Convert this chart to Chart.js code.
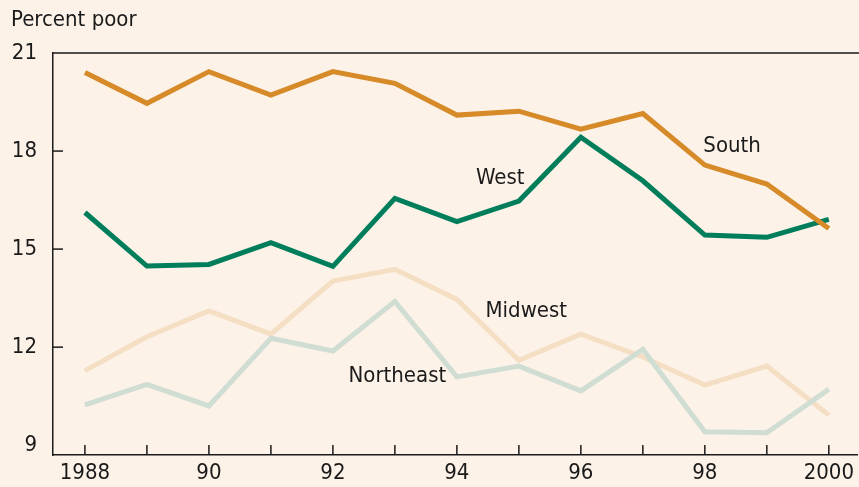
<!DOCTYPE html>
<html>
<head>
<meta charset="utf-8">
<script src="https://cdn.jsdelivr.net/npm/chart.js@4"></script>
<style>
  html, body { margin: 0; padding: 0; background: #fcf2e8; }
  #wrap { width: 859px; height: 487px; position: relative; }
</style>
</head>
<body>
<div id="wrap"><canvas id="myChart"></canvas></div>
<script>
const ctx = document.getElementById('myChart');

const years = [1988, 1989, 1990, 1991, 1992, 1993, 1994, 1995, 1996, 1997, 1998, 1999, 2000];
const south = [20.40, 19.46, 20.43, 19.71, 20.43, 20.07, 19.10, 19.22, 18.67, 19.15, 17.57, 16.99, 15.63];
const west = [16.12, 14.48, 14.53, 15.20, 14.47, 16.55, 15.84, 16.47, 18.42, 17.09, 15.43, 15.36, 15.91];
const midwest = [11.28, 12.32, 13.11, 12.40, 14.02, 14.38, 13.46, 11.60, 12.40, 11.70, 10.84, 11.42, 9.92];
const northeast = [10.23, 10.86, 10.20, 12.27, 11.88, 13.40, 11.09, 11.42, 10.66, 11.93, 9.41, 9.38, 10.71];
const yTicks = [9, 12, 15, 18, 21];
const xLabels = {1988: '1988', 1990: '90', 1992: '92', 1994: '94', 1996: '96', 1998: '98', 2000: '2000'};

// series names placed on the chart (x = year, y = percent)
const seriesLabels = [
  { text: 'South', x: 1998.44, y: 18.15 },
  { text: 'West', x: 1994.70, y: 17.17 },
  { text: 'Midwest', x: 1995.12, y: 13.10 },
  { text: 'Northeast', x: 1993.04, y: 11.11 }
];

const FONT = "'Liberation Sans Narrow', 'DejaVu Sans Condensed', sans-serif";
const ink = '#1a1a1a';

const pts = (vals) => vals.map((v, i) => ({ x: years[i], y: v }));

const decor = {
  id: 'decor',
  beforeDraw(chart) {
    const c = chart.ctx;
    c.save();
    c.fillStyle = '#fcf2e8';
    c.fillRect(0, 0, chart.width, chart.height);
    c.restore();
  },
  afterDraw(chart) {
    const c = chart.ctx;
    const a = chart.chartArea;
    const xs = chart.scales.x, ys = chart.scales.y;
    c.save();
    c.strokeStyle = ink;
    c.lineWidth = 1.5;
    // top line
    c.beginPath();
    c.moveTo(a.left, a.top);
    c.lineTo(chart.width, a.top);
    c.stroke();
    // inner y ticks
    [12, 15, 18].forEach(v => {
      const y = ys.getPixelForValue(v);
      c.beginPath();
      c.moveTo(a.left, y);
      c.lineTo(a.left + 10, y);
      c.stroke();
    });
    // inner x ticks
    years.forEach(yr => {
      const x = xs.getPixelForValue(yr);
      c.beginPath();
      c.moveTo(x, a.bottom);
      c.lineTo(x, a.bottom - 10);
      c.stroke();
    });
    // series names
    c.fillStyle = ink;
    c.font = '22px ' + FONT;
    c.textAlign = 'center';
    c.textBaseline = 'middle';
    seriesLabels.forEach(l => {
      c.fillText(l.text, xs.getPixelForValue(l.x), ys.getPixelForValue(l.y));
    });
    // axis title
    c.textAlign = 'left';
    c.font = '22px ' + FONT;
    c.fillText('Percent poor', 11, 20);
    c.restore();
  }
};

new Chart(ctx, {
  type: 'line',
  data: {
    datasets: [
      { label: 'Northeast', data: pts(northeast), borderColor: '#d0ddd2', borderWidth: 5 },
      { label: 'Midwest', data: pts(midwest), borderColor: '#f5dfc4', borderWidth: 5 },
      { label: 'South', data: pts(south), borderColor: '#d68a28', borderWidth: 5 },
      { label: 'West', data: pts(west), borderColor: '#007e5c', borderWidth: 5 }
    ]
  },
  options: {
    responsive: true,
    maintainAspectRatio: false,
    animation: false,
    layout: { padding: { top: 53, left: 0, right: 0, bottom: 0 } },
    elements: { point: { radius: 0 }, line: { tension: 0, borderJoinStyle: 'miter', fill: false } },
    plugins: { legend: { display: false }, tooltip: { enabled: false } },
    scales: {
      x: {
        type: 'linear',
        min: 1987.485,
        max: 2000.47,
        afterBuildTicks: (s) => { s.ticks = years.map(v => ({ value: v })); },
        afterFit: (s) => { s.height = 32; },
        grid: { display: false, drawTicks: false },
        border: { display: true, color: ink, width: 1.5 },
        ticks: {
          autoSkip: false,
          maxRotation: 0,
          padding: 5,
          color: ink,
          font: { size: 22, family: FONT },
          callback: (v) => xLabels[v] || ''
        }
      },
      y: {
        min: 8.7,
        max: 21,
        afterBuildTicks: (s) => { s.ticks = yTicks.map(v => ({ value: v })); },
        afterFit: (s) => { s.width = 53; },
        grid: { display: false, drawTicks: false },
        border: { display: true, color: ink, width: 1.5 },
        ticks: {
          padding: 16,
          color: ink,
          font: { size: 22, family: FONT }
        }
      }
    }
  },
  plugins: [decor]
});
</script>
</body>
</html>
